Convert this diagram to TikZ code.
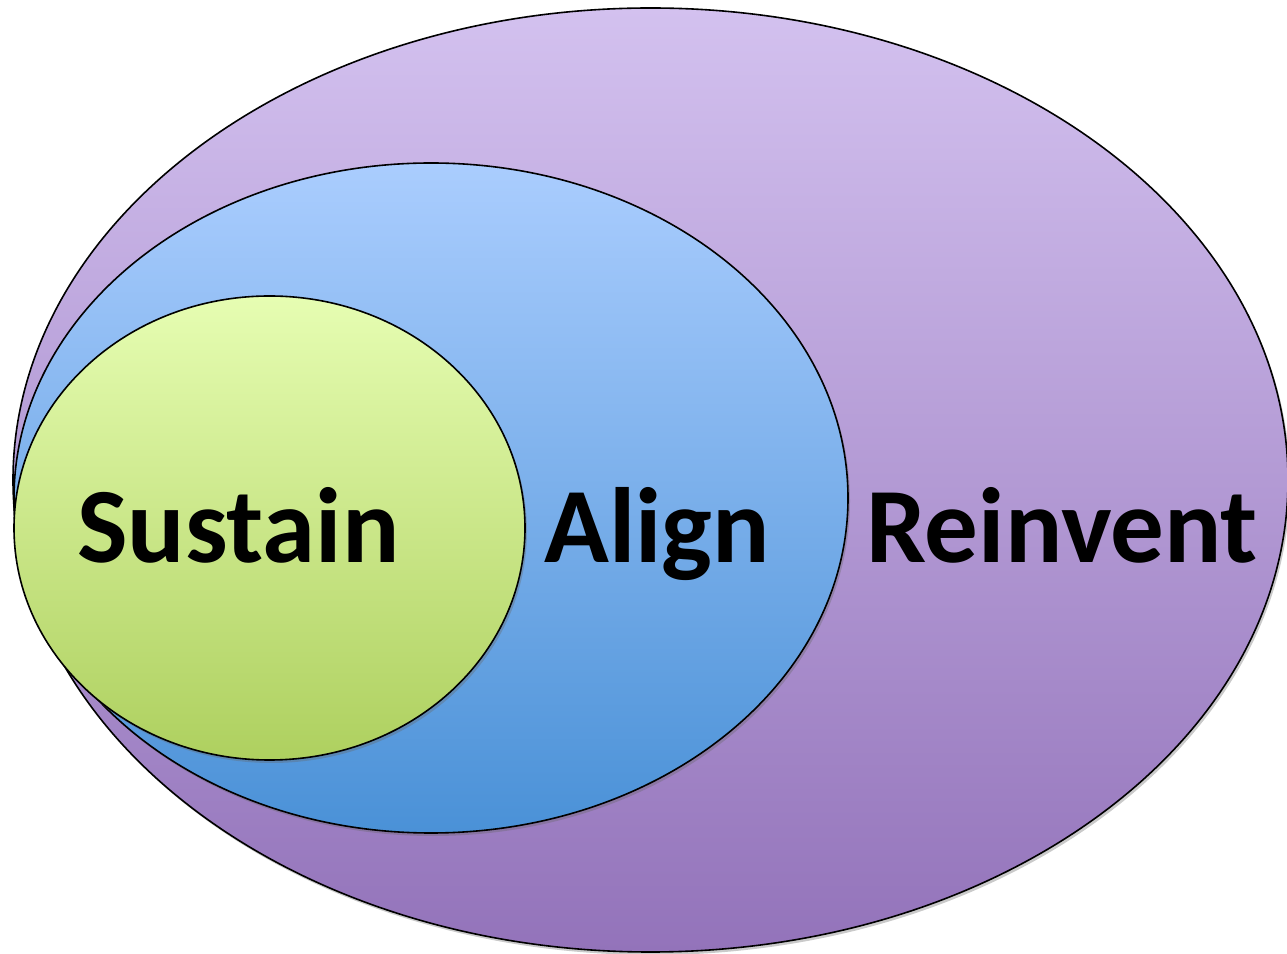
\documentclass[tikz,border=0pt]{standalone}
\usepackage{fontspec}
\setmainfont{Carlito}
\usetikzlibrary{shadows}
\definecolor{outerTop}{HTML}{D3C1EF}
\definecolor{outerBot}{HTML}{9373BA}
\definecolor{midTop}{HTML}{AACDFE}
\definecolor{midBot}{HTML}{4A91D7}
\definecolor{innTop}{HTML}{E6FDB2}
\definecolor{innBot}{HTML}{AED05F}
\tikzset{
  ring/.style={draw=black, line width=1.6pt,
    drop shadow={shadow xshift=2pt, shadow yshift=-3pt, opacity=0.35, fill=black!60}},
  word/.style={font=\fontsize{107}{112}\selectfont\bfseries, inner sep=0pt, anchor=base west}
}
\begin{document}
\begin{tikzpicture}[x=1pt,y=1pt]
  \useasboundingbox (0,0) rectangle (1287,953);
  % outer ring
  \path[ring, top color=outerTop, bottom color=outerBot]
    (650.5,473) ellipse [x radius=637.5, y radius=472];
  % middle ring
  \path[ring, top color=midTop, bottom color=midBot]
    (431,455) ellipse [x radius=417, y radius=335];
  % inner ring
  \path[ring, top color=innTop, bottom color=innBot]
    (269.5,425) ellipse [x radius=255.5, y radius=232];
  % labels
  \node[word] (sustain) at (77,390) {Sustain};
  \node[word] (align) at (544,390) {Align};
  \node[word] (reinvent) at (866,390) {Reinvent};
\end{tikzpicture}
\end{document}
